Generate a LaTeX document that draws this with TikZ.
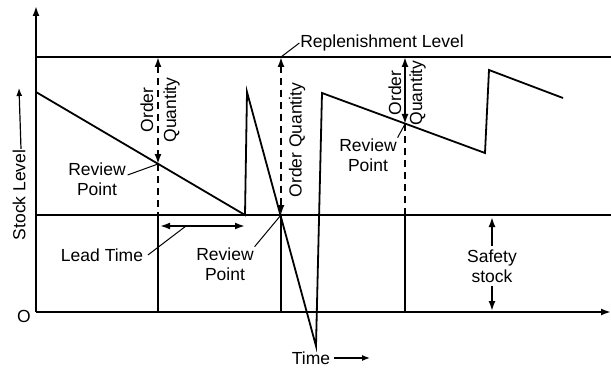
\documentclass[tikz,border=0pt]{standalone}
\usepackage{fontspec}
\setmainfont{Liberation Sans}
\usetikzlibrary{arrows.meta}
\begin{document}
\begin{tikzpicture}[
    x=1pt,y=-1pt,
    line width=1.8pt,
    font=\fontsize{17.5}{20}\selectfont,
    tip/.style={-{Latex[length=10pt,width=7pt]}},
    both/.style={{Latex[length=10pt,width=7pt]}-{Latex[length=10pt,width=7pt]}},
    small/.style={line width=1.2pt,-{Latex[length=8pt,width=6pt]}},
    dsh/.style={dash pattern=on 7pt off 5pt},
    lbl/.style={align=center,inner sep=0pt},
    lead/.style={line width=1pt}
]
\useasboundingbox (0,0) rectangle (611,369);
\coordinate (o) at (36,312);
\coordinate (ytop) at (36,6);
\coordinate (xend) at (611,312);
\coordinate (rl0) at (36,57);
\coordinate (rl1) at (611,57);
\coordinate (ss0) at (36,215);
\coordinate (ss1) at (611,215);
\draw[tip] (o) -- (ytop);
\draw[tip] (o) -- (xend);
\draw (rl0) -- (rl1);
\draw (ss0) -- (ss1);
\draw (36,92) -- (245,215) -- (247,92) -- (316,346) -- (322,93) -- (485,153) -- (489,70) -- (563,98);
\coordinate (q1) at (158,57);
\coordinate (r1) at (158,164);
\coordinate (b1) at (158,215);
\coordinate (a1) at (158,312);
\coordinate (q2) at (281,57);
\coordinate (r2) at (281,215);
\coordinate (a2) at (281,312);
\coordinate (q3) at (405,57);
\coordinate (r3) at (405,124);
\coordinate (b3) at (405,215);
\coordinate (a3) at (405,312);
\draw[both,dsh] (q1) -- (r1);
\draw[dsh] (r1) -- (b1);
\draw (b1) -- (a1);
\draw[both,dsh] (q2) -- (r2);
\draw (r2) -- (a2);
\draw[both] (q3) -- (r3);
\draw[dsh] (r3) -- (b3);
\draw (b3) -- (a3);
\node[lbl,rotate=90] (oq1) at (160,110) {Order\\[3pt]Quantity};
\node[lbl,rotate=90] (oq2) at (297,140) {Order Quantity};
\node[lbl,rotate=90] (oq3) at (407,93) {Order\\[1pt]Quantity};
\node[lbl] (rev1) at (97,179) {Review\\Point};
\node[lbl] (rev2) at (225,264) {Review\\Point};
\node[lbl] (rev3) at (368,155) {Review\\Point};
\node[lbl] (repl) at (382,43) {Replenishment Level};
\node[lbl] (lead) at (102,255) {Lead Time};
\node[lbl,inner sep=3pt] (safe) at (492,266) {Safety\\stock};
\node[lbl,rotate=90] (stk) at (19,195) {Stock Level};
\node[lbl] (orig) at (24,316) {O};
\node[lbl] (time) at (311,358) {Time};
\coordinate (lt0) at (160,226);
\coordinate (lt1) at (245,226);
\coordinate (lt) at (186,226);
\coordinate (stktip) at (19,88);
\coordinate (timetip) at (370,358);
\draw[both] (lt0) -- (lt1);
\draw[lead] ([shift={(1pt,4pt)}]rev1.east) -- (r1);
\draw[lead] (rev2.north east) -- (r2);
\draw[lead] (rev3.north east) -- (r3);
\draw[lead] (repl.west) -- (q2);
\draw[lead] ([xshift=4pt]lead.east) -- (lt);
\draw[tip] (safe.north) -- (492,217);
\draw[tip] (safe.south) -- (492,311);
\draw[small] ([xshift=2pt]stk.east) -- (stktip);
\draw[small] ([xshift=3pt]time.east) -- (timetip);
\end{tikzpicture}
\end{document}
